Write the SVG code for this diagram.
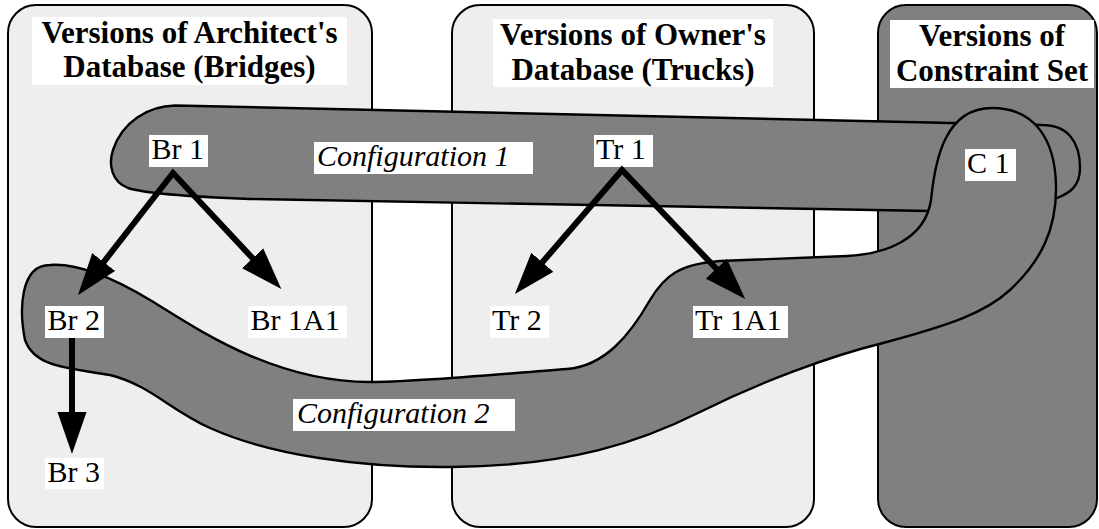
<svg xmlns="http://www.w3.org/2000/svg" width="1099" height="529" viewBox="0 0 1099 529">
<style>
.panel{stroke:#000;stroke-width:2}
.light{fill:#eeeeee}
.dark{fill:#808080}
.config{fill:#808080;stroke:#000;stroke-width:2.4;stroke-linejoin:round}
.box{fill:#ffffff}
.title{font-family:"Liberation Serif","Times New Roman",serif;font-weight:bold;font-size:31px;fill:#000;text-anchor:middle}
.lbl{font-family:"Liberation Serif","Times New Roman",serif;font-size:30px;fill:#000}
.it{font-style:italic}
.arrow{fill:none;stroke:#000;stroke-width:6;stroke-linejoin:miter;stroke-miterlimit:10}
</style>
<defs>
<marker id="head" markerUnits="userSpaceOnUse" markerWidth="42" markerHeight="30" viewBox="0 0 39 27" refX="13" refY="13.5" orient="auto-start-reverse">
<path d="M0,0 L39,13.5 L0,27 Z" fill="#000"/>
</marker>
</defs>
<rect width="1099" height="529" fill="#ffffff"/>
<g id="panel-architect">
<rect class="panel light" x="8" y="5" width="364" height="522" rx="28"/>
<rect class="box" x="32" y="17" width="315" height="68"/>
<text class="title" x="189.5" y="42.5">Versions of Architect's</text>
<text class="title" x="189.5" y="77">Database (Bridges)</text>
</g>
<g id="panel-owner">
<rect class="panel light" x="452" y="5" width="362" height="522" rx="28"/>
<rect class="box" x="493" y="19" width="280" height="68"/>
<text class="title" x="633" y="45">Versions of Owner's</text>
<text class="title" x="633" y="79.5">Database (Trucks)</text>
</g>
<g id="panel-constraint">
<rect class="panel dark" x="878" y="5" width="219" height="522" rx="28"/>
<rect class="box" x="890" y="20" width="204" height="68"/>
<text class="title" x="992" y="46">Versions of</text>
<text class="title" x="992" y="80.5">Constraint Set</text>
</g>
<g id="configuration-1">
<path class="config" d="M175,105.5 L1042,125 C1068,125 1080,142 1080,168 C1080,186 1070,193 1057,198 L1040,200 L940,209 L930,211 L250,199 C210,197.5 150,195 128,188 C112,182 108,165 113,150 C122,122 148,106 175,105.5 Z"/>
<rect class="box" x="314" y="142" width="219" height="32"/>
<text class="lbl it" x="317" y="166">Configuration 1</text>
</g>
<g id="configuration-2">
<path class="config" d="M50,265 C75,263 110,276 150,300 C190,324 270,382 370,382 C420,382 500,374 567,369 C605,366 630,335 650,300 C665,275 680,264 720,261 C770,259 820,257 847,256 C885,254 925,240 931,200 C935,160 945,108 992,108 C1035,108 1055,140 1056,185 C1057,230 1040,262 1010,290 C985,313 950,325 883,343 C830,356 760,382 700,412 C640,442 570,466 452,467 C360,468 270,455 210,428 C170,410 150,385 110,375 C70,368 35,368 25,340 C19,310 20,265 50,265 Z"/>
<rect class="box" x="293" y="399" width="222" height="32"/>
<text class="lbl it" x="297" y="423">Configuration 2</text>
</g>
<g id="node-br1"><rect class="box" x="149" y="135" width="59" height="32"/><text class="lbl" x="151.5" y="159">Br 1</text></g>
<g id="node-br2"><rect class="box" x="45" y="306" width="59" height="32"/><text class="lbl" x="47.5" y="330">Br 2</text></g>
<g id="node-br3"><rect class="box" x="45" y="458" width="59" height="31"/><text class="lbl" x="47.5" y="482">Br 3</text></g>
<g id="node-br1a1"><rect class="box" x="248" y="306" width="99" height="32"/><text class="lbl" x="250.5" y="330">Br 1A1</text></g>
<g id="node-tr1"><rect class="box" x="594" y="135" width="59" height="32"/><text class="lbl" x="596" y="159">Tr 1</text></g>
<g id="node-tr2"><rect class="box" x="490" y="306" width="59" height="32"/><text class="lbl" x="492" y="330">Tr 2</text></g>
<g id="node-tr1a1"><rect class="box" x="693" y="306" width="95" height="32"/><text class="lbl" x="695" y="330">Tr 1A1</text></g>
<g id="node-c1"><rect class="box" x="965" y="149" width="51" height="32"/><text class="lbl" x="967" y="173">C 1</text></g>
<g id="connectors">
<path class="arrow" d="M95.1,273.1 L173,173 L262.2,268.5" marker-start="url(#head)" marker-end="url(#head)"/>
<path class="arrow" d="M533.2,272.9 L622,170 L725.9,278.8" marker-start="url(#head)" marker-end="url(#head)"/>
<path class="arrow" d="M72,338 L72,426" marker-end="url(#head)"/>
</g>
</svg>
